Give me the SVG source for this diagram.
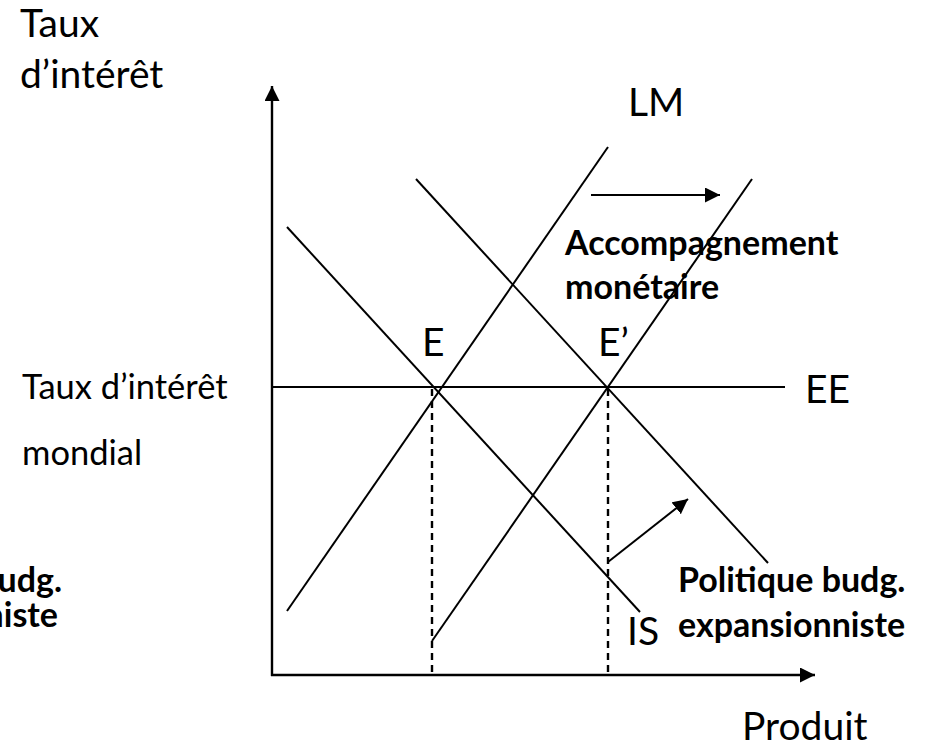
<svg xmlns="http://www.w3.org/2000/svg" width="930" height="747" viewBox="0 0 930 747">
<style>
.ln{stroke:#000;stroke-width:2;fill:none}
.ax{stroke:#000;stroke-width:2.4;fill:none}
.dash{stroke:#000;stroke-width:2.4;stroke-dasharray:7,5;fill:none}
.big{font-family:Lato,"Liberation Sans",sans-serif;font-size:39px;fill:#000}
.mid{font-family:Lato,"Liberation Sans",sans-serif;font-size:34.5px;fill:#000}
.bold{font-family:Lato,"Liberation Sans",sans-serif;font-size:34px;font-weight:bold;fill:#000}
</style>
<defs>
<marker id="ah" markerUnits="userSpaceOnUse" markerWidth="16" markerHeight="16" refX="15" refY="7.5" orient="auto">
<path d="M0,0 L15,7.5 L0,15 z" fill="#000"/>
</marker>
</defs>
<rect width="930" height="747" fill="#fff"/>
<g id="connectors">
<line id="y-axis" class="ax" x1="272" y1="676" x2="272" y2="86" marker-end="url(#ah)"/>
<line id="x-axis" class="ax" x1="271" y1="675" x2="815" y2="675" marker-end="url(#ah)"/>
<line id="EE" class="ln" x1="272" y1="387" x2="785" y2="387"/>
<line id="LM1" class="ln" x1="287" y1="611" x2="608" y2="147"/>
<line id="LM2" class="ln" x1="432" y1="641" x2="752" y2="179"/>
<line id="IS1" class="ln" x1="287" y1="227" x2="640" y2="612"/>
<line id="IS2" class="ln" x1="416" y1="179" x2="768" y2="563"/>
<line id="dashE" class="dash" x1="432" y1="389" x2="432" y2="675"/>
<line id="dashE2" class="dash" x1="608" y1="389" x2="608" y2="675"/>
<line id="arrowLM" class="ln" x1="591" y1="195" x2="720" y2="195" marker-end="url(#ah)"/>
<line id="arrowIS" class="ln" x1="608" y1="562" x2="688" y2="499" marker-end="url(#ah)"/>
</g>
<g id="label-yaxis">
<text class="big" x="20" y="37">Taux</text>
<text class="big" x="20" y="88">d’intérêt</text>
</g>
<g id="label-LM"><text class="big" x="628" y="116">LM</text></g>
<g id="label-E"><text class="big" x="422" y="356">E</text></g>
<g id="label-E2"><text class="big" x="598" y="356">E’</text></g>
<g id="label-EE"><text class="big" x="805" y="403">EE</text></g>
<g id="label-IS"><text class="big" x="627" y="645">IS</text></g>
<g id="label-produit"><text class="big" x="742" y="740">Produit</text></g>
<g id="label-taux-mondial">
<text class="mid" x="22" y="399">Taux d’intérêt</text>
<text class="mid" x="22" y="465">mondial</text>
</g>
<g id="label-accompagnement">
<text class="bold" x="565" y="255">Accompagnement</text>
<text class="bold" x="565" y="299">monétaire</text>
</g>
<g id="label-politique">
<text class="bold" x="678" y="592">Politique budg.</text>
<text class="bold" x="678" y="637">expansionniste</text>
</g>
<g id="label-politique-left">
<text class="bold" x="62" y="592" text-anchor="end">Politique budg.</text>
<text class="bold" x="58" y="627" text-anchor="end">expansionniste</text>
</g>
</svg>
